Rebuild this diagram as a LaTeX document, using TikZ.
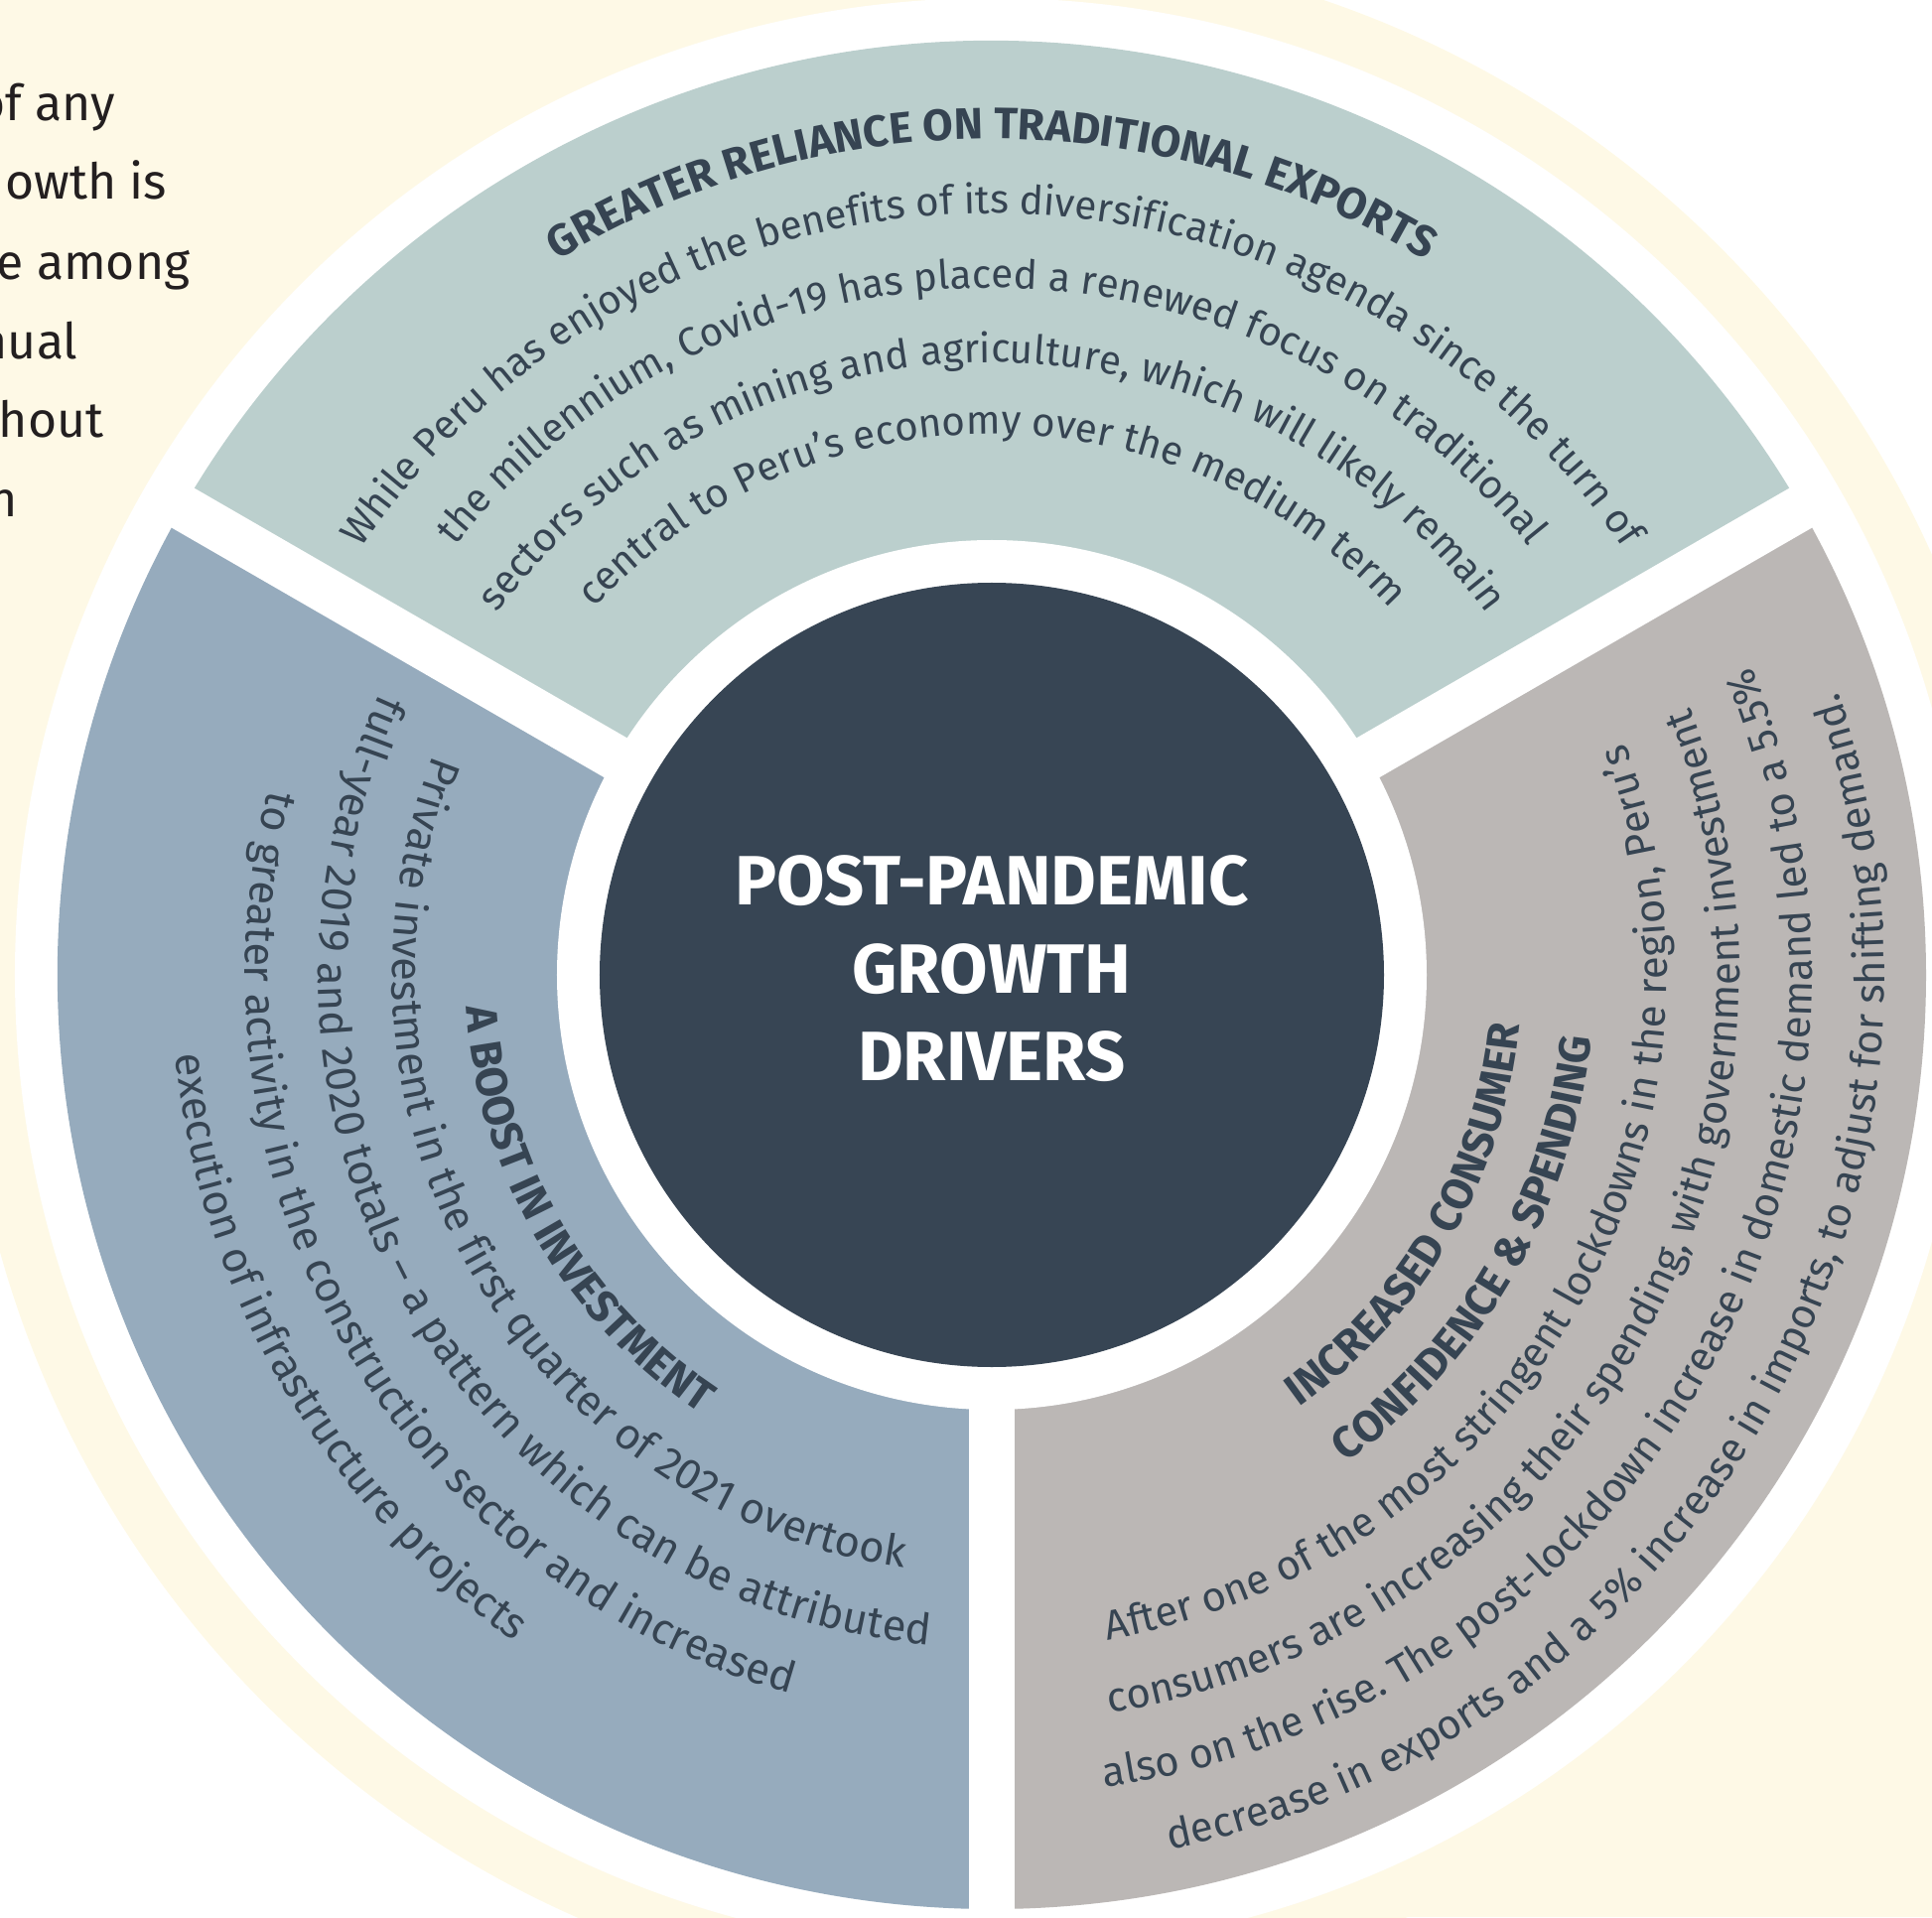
\documentclass[tikz,border=0pt]{standalone}
\usepackage{fontspec}
\setmainfont{Fira Sans}
\usetikzlibrary{decorations.text}
\definecolor{mycream}{RGB}{254,249,230}
\definecolor{mysage}{RGB}{187,207,205}
\definecolor{mysteel}{RGB}{150,171,189}
\definecolor{mytaupe}{RGB}{187,183,181}
\definecolor{myslate}{RGB}{55,69,84}
\definecolor{myink}{RGB}{54,68,82}
\definecolor{myblack}{RGB}{35,31,32}
\newcommand{\radiushub}{3.95}
\newcommand{\radiusinner}{4.38}
\newcommand{\radiusouter}{9.41}
\newcommand{\bodyfont}{\color{myink}\fontsize{11.5}{13}\selectfont}
\newcommand{\leftfont}{\color{myink}\fontsize{12.4}{14}\selectfont}
\newcommand{\rightfont}{\color{myink}\fontsize{11.9}{14}\selectfont}
\newcommand{\headfont}{\color{myink}\fontsize{12.6}{14}\selectfont\bfseries}
% one line of text bent round the hub: radius, start angle, end angle, format, text
\newcommand{\ringline}[5]{%
  \path[decorate, decoration={text along path, text align=center, text={|#4|#5}}]
    (#2:#1) arc[start angle=#2, end angle=#3, radius=#1];}
\tikzset{
    gap/.style={draw=white, line width=4.6mm},
    hubdisc/.style={circle, fill=myslate, minimum size=2*\radiushub cm, inner sep=0pt},
    hublabel/.style={text=white, align=center, font=\fontsize{20}{25.2}\selectfont\bfseries},
    sidetext/.style={anchor=base east, text=myblack, inner sep=0pt, font=\fontsize{14.2}{17}\selectfont},
}
\begin{document}
\begin{tikzpicture}
    \useasboundingbox (-9.99,-9.49) rectangle (9.47,9.82);
    \coordinate (c) at (0,0);
    % page background: two cream panels behind the ring
    \fill[mycream] (-9.99,9.82) rectangle (c);
    \fill[mycream] (c) rectangle (9.47,-9.49);
    \fill[mycream] (c) circle[radius=10.37];
    \fill[white] (c) circle[radius=9.84];
    % the three sectors
    \fill[mysage] (c) -- (30:\radiusouter) arc[start angle=30, end angle=150, radius=\radiusouter] -- cycle;
    \fill[mysteel] (c) -- (150:\radiusouter) arc[start angle=150, end angle=270, radius=\radiusouter] -- cycle;
    \fill[mytaupe] (c) -- (270:\radiusouter) arc[start angle=270, end angle=390, radius=\radiusouter] -- cycle;
    \fill[white] (c) circle[radius=\radiusinner];
    \foreach \a in {30,150,270}
        \draw[gap] (c) -- (\a:9.7);
    \node[hubdisc] (hub) at (c) {};
    \node[hublabel] (hubtitle) at (0,0.06) {POST-PANDEMIC\\GROWTH\\DRIVERS};
    % top sector
    \ringline{8.42}{178}{2}{\headfont}{GREATER RELIANCE ON TRADITIONAL EXPORTS}
    \ringline{7.67}{178}{2}{\bodyfont}{While Peru has enjoyed the benefits of its diversification agenda since the turn of}
    \ringline{6.92}{178}{2}{\bodyfont}{the millennium, Covid-19 has placed a renewed focus on traditional}
    \ringline{6.17}{178}{2}{\bodyfont}{sectors such as mining and agriculture, which will likely remain}
    \ringline{5.45}{178}{2}{\bodyfont}{central to Peru’s economy over the medium term}
    % left sector
    \ringline{5.30}{130}{290}{\headfont}{A BOOST IN INVESTMENT}
    \ringline{6.04}{130}{290}{\leftfont}{Private investment in the first quarter of 2021 overtook}
    \ringline{6.78}{130}{290}{\leftfont}{full-year 2019 and 2020 totals – a pattern which can be attributed}
    \ringline{7.52}{130}{290}{\leftfont}{to greater activity in the construction sector and increased}
    \ringline{8.26}{130}{290}{\leftfont}{execution of infrastructure projects}
    % right sector
    \ringline{5.34}{-110}{50}{\headfont}{INCREASED CONSUMER}
    \ringline{6.07}{-110}{50}{\headfont}{CONFIDENCE {\&} SPENDING}
    \ringline{6.80}{-110}{50}{\rightfont}{After one of the most stringent lockdowns in the region, Peru’s}
    \ringline{7.53}{-110}{50}{\rightfont}{consumers are increasing their spending, with government investment}
    \ringline{8.26}{-110}{50}{\rightfont}{also on the rise. The post-lockdown increase in domestic demand led to a 5.5{\%}}
    \ringline{8.99}{-110}{50}{\rightfont}{decrease in exports and a 5{\%} increase in imports, to adjust for shifting demand.}
    % text running in from the left page
    \node[sidetext] (side1) at (-8.82,8.60) {of any};
    \node[sidetext] (side2) at (-8.30,7.81) {owth is};
    \node[sidetext] (side3) at (-8.07,7.00) {e among};
    \node[sidetext] (side4) at (-9.20,6.20) {nual};
    \node[sidetext] (side5) at (-8.94,5.41) {hout};
    \node[sidetext] (side6) at (-9.81,4.61) {n};
\end{tikzpicture}
\end{document}
